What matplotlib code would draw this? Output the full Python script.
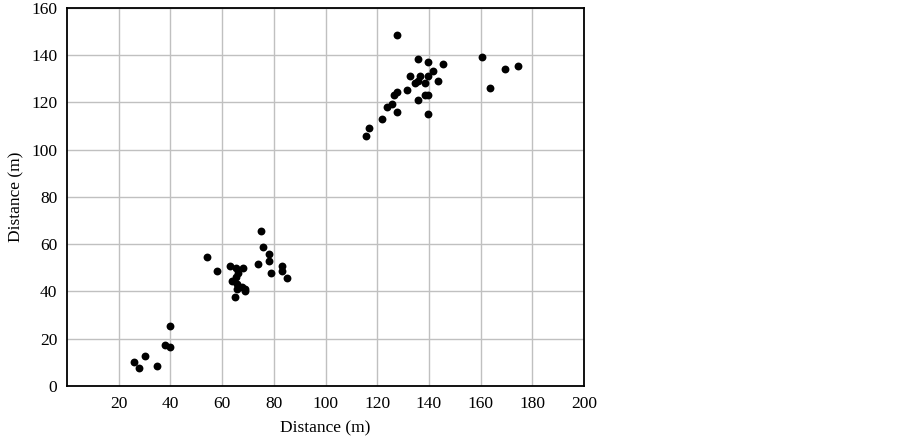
import numpy as np
import matplotlib
matplotlib.use('Agg')
import matplotlib.pyplot as plt

# 読み取ったデータ (m)
x_near = [26, 28, 30, 35, 38, 40, 40]
y_near = [10.3, 7.5, 12.5, 8.5, 17.5, 16.5, 25.5]

x_mid = [54, 58, 63, 65.5, 68, 66, 65.5, 64, 65.6, 65.6, 67.5, 69, 69, 65,
         75, 76, 78, 78, 74, 79, 83, 83, 85]
y_mid = [54.8, 48.8, 50.8, 49.8, 49.8, 47.7, 46.2, 44.5, 43.3, 41.2, 42, 41, 40, 37.8,
         65.8, 58.8, 55.8, 52.7, 51.8, 47.8, 50.8, 48.8, 45.8]

x_far = [127.7, 135.7, 139.7, 145.6, 160.5, 169.4, 174.5, 163.5, 141.6, 132.7,
         136.6, 139.7, 143.5, 138.6, 135.7, 134.6, 131.6, 127.7, 126.6, 138.6,
         139.7, 135.7, 125.7, 123.7, 127.7, 139.7, 121.7, 116.7, 115.7]
y_far = [148.5, 138.3, 137.3, 136.3, 139.3, 134.2, 135.3, 126.3, 133.3, 131.4,
         131.4, 131.4, 129.2, 128.3, 129.2, 128.3, 125.3, 124.3, 123.2, 123.2,
         123.2, 121.1, 119.2, 118.1, 116.1, 115.1, 113.0, 109.1, 106.0]

x_ticks = [20, 40, 60, 80, 100, 120, 140, 160, 180, 200]
y_ticks = [0, 20, 40, 60, 80, 100, 120, 140, 160]

plt.rcParams['font.family'] = ['Liberation Serif', 'DejaVu Serif']

fig = plt.figure(figsize=(9.02, 4.36), dpi=100)
ax = fig.add_axes([0.0743, 0.1147, 0.5732, 0.867])

xs = np.concatenate([x_near, x_mid, x_far])
ys = np.concatenate([y_near, y_mid, y_far])
ax.scatter(xs, ys, s=32, color='black', zorder=3, linewidths=0)

ax.set_xlim(0, 200)
ax.set_ylim(0, 160)
ax.set_xticks(x_ticks)
ax.set_yticks(y_ticks)
ax.grid(True, color='#c0c0c0', linewidth=1.0)
ax.set_axisbelow(True)
ax.tick_params(length=0, labelsize=12.5, pad=7)
for s in ax.spines.values():
    s.set_linewidth(1.3)
    s.set_color('black')

ax.set_xlabel('Distance (m)', fontsize=12.5, labelpad=6)
ax.set_ylabel('Distance (m)', fontsize=12.5, labelpad=5)

fig.savefig('out.png', dpi=100)
